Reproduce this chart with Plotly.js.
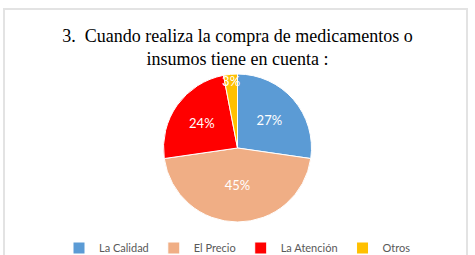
<!DOCTYPE html>
<html>
<head>
<meta charset="utf-8">
<script src="https://cdn.plot.ly/plotly-3.0.1.min.js"></script>
<style>
  html, body { margin: 0; padding: 0; background: #fff; overflow: hidden; width: 475px; height: 255px; }
  #frame { position: absolute; left: 3px; top: 8px; width: 465px; height: 260px; border: 2px solid #e3e3e3; box-sizing: border-box; }
  #chart { position: absolute; left: 0; top: 0; width: 475px; height: 270px; }
</style>
</head>
<body>
<div id="frame"></div>
<div id="chart"></div>
<script>
const titleText = "3.  Cuando realiza la compra de medicamentos o<br>insumos tiene en cuenta :";
const categories = ["La Calidad", "El Precio", "La Atención", "Otros"];
const percentages = [27, 45, 24, 3];
const sliceColors = ["#5B9BD5", "#F0AE85", "#FF0000", "#FFC000"];

const H = 270;

const trace = {
  type: "pie",
  labels: categories,
  values: percentages,
  sort: false,
  direction: "clockwise",
  rotation: 0,
  marker: { colors: sliceColors, line: { color: "#ffffff", width: 1 } },
  texttemplate: "%{value}%",
  textposition: "inside",
  insidetextorientation: "horizontal",
  textfont: { family: "Lato, Open Sans, sans-serif", size: 13, color: "#ffffff" },
  hoverinfo: "label+percent",
  domain: { x: [0.1, 0.9], y: [(H - 222) / H, (H - 74) / H] }
};

const layout = {
  width: 475,
  height: H,
  margin: { l: 0, r: 0, t: 0, b: 0 },
  paper_bgcolor: "rgba(0,0,0,0)",
  plot_bgcolor: "rgba(0,0,0,0)",
  uniformtext: { mode: "show", minsize: 13 },
  title: {
    text: titleText,
    font: { family: "Liberation Serif, Times New Roman, serif", size: 18, color: "#000000" },
    x: 0.5, xanchor: "center",
    y: 1 - 42 / H, yref: "container", yanchor: "top"
  },
  showlegend: true,
  legend: {
    orientation: "h",
    x: 0.5, xanchor: "center",
    y: (H - 248) / H, yanchor: "middle",
    font: { family: "Lato, Open Sans, sans-serif", size: 11, color: "#595959" },
    bgcolor: "rgba(0,0,0,0)",
    itemwidth: 30
  }
};

Plotly.newPlot("chart", [trace], layout, { displayModeBar: false, staticPlot: true });
</script>
</body>
</html>
